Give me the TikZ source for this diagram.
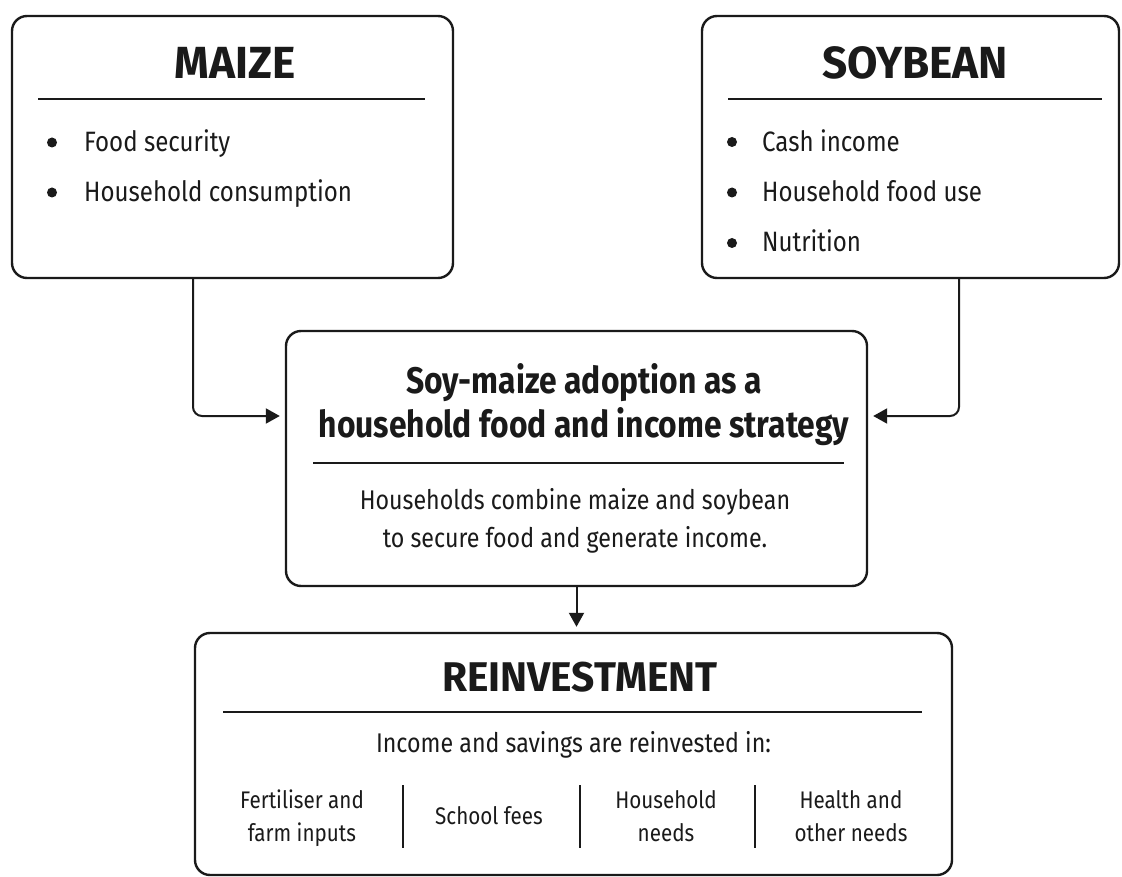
\documentclass[tikz,border=0pt]{standalone}
\usepackage{fontspec}
\setmainfont{Fira Sans}[FakeStretch=0.86]
\newfontfamily\headfont{Fira Sans}[FakeStretch=0.98]
\usetikzlibrary{arrows.meta}
\definecolor{ink}{HTML}{1A1A1A}
\begin{document}
\begin{tikzpicture}[x=1pt,y=-1pt,
  panel/.style={draw=ink,line width=2.4pt,rounded corners=15pt,inner sep=0pt,fill=white},
  rule/.style={draw=ink,line width=2pt},
  conn/.style={draw=ink,line width=2pt,rounded corners=9pt,shorten >=5pt,
    -{Triangle[length=14pt,width=15pt]}},
  head/.style={font=\headfont\fontsize{45}{50}\selectfont\bfseries,text=ink,inner sep=0pt,anchor=base},
  item/.style={font=\fontsize{28}{32}\selectfont,text=ink,inner sep=0pt,anchor=base west},
  dot/.style={circle,fill=ink,inner sep=0pt,minimum size=10pt},
  body/.style={font=\fontsize{27}{38}\selectfont,text=ink,inner sep=0pt,anchor=base,align=center},
  cell/.style={font=\fontsize{24}{33}\selectfont,text=ink,inner sep=0pt,anchor=base,align=center}]
\useasboundingbox (0,0) rectangle (1122,877);
\fill[white] (0,0) rectangle (1122,877);

% crop panels
\node[panel,minimum width=441pt,minimum height=262pt] (maize) at (232.5,147) {};
\node[panel,minimum width=417pt,minimum height=262pt] (soy) at (910.5,147) {};
\node[panel,minimum width=581pt,minimum height=255pt] (centre) at (576.5,458.5) {};
\node[panel,minimum width=757pt,minimum height=242pt] (reinvest) at (573.5,754) {};

% maize panel
\node[head] (maizeT) at (235,79) {MAIZE};
\draw[rule] (38,99) -- (425,99);
\node[dot] (m1d) at (52,142.5) {};
\node[item] (m1) at (84,152) {Food security};
\node[dot] (m2d) at (52,192.5) {};
\node[item] (m2) at (84,202) {Household consumption};

% soybean panel
\node[head] (soyT) at (915,79) {SOYBEAN};
\draw[rule] (728,99) -- (1102,99);
\node[dot] (s1d) at (732,142) {};
\node[item] (s1) at (762,152) {Cash income};
\node[dot] (s2d) at (732,192.5) {};
\node[item] (s2) at (762,202) {Household food use};
\node[dot] (s3d) at (732,243) {};
\node[item] (s3) at (762,252) {Nutrition};

% strategy panel (multi-line nodes sit on the baseline of their last line)
\node[font=\fontsize{37}{44}\selectfont\bfseries,text=ink,inner sep=0pt,anchor=base,align=center]
  (centreT) at (584,437) {Soy-maize adoption as a\\household food and income strategy};
\draw[rule] (313,463) -- (844,463);
\node[body] (centreB) at (575,547) {Households combine maize and soybean\\to secure food and generate income.};

% reinvestment panel
\node[head,font=\headfont\fontsize{41.5}{46}\selectfont\bfseries] (reinvestT) at (580,691) {REINVESTMENT};
\draw[rule] (223,712) -- (922,712);
\node[body,font=\fontsize{27}{30}\selectfont] (reinvestB) at (573.5,752) {Income and savings are reinvested in:};
\node[cell] (c1) at (302,841) {Fertiliser and\\farm inputs};
\node[cell] (c2) at (489,824) {School fees};
\node[cell] (c3) at (666,841) {Household\\needs};
\node[cell] (c4) at (851,841) {Health and\\other needs};
\draw[rule] (403,785) -- (403,848);
\draw[rule] (580,785) -- (580,848);
\draw[rule] (755,785) -- (755,848);

% connectors
\coordinate (mj) at (193,416);
\coordinate (sj) at (959,416);
\draw[conn] (mj |- maize.south) -- (mj) -- (centre.west |- mj);
\draw[conn] (sj |- soy.south) -- (sj) -- (centre.east |- sj);
\draw[conn,rounded corners=0pt] (centre.south) -- (centre.south |- reinvest.north);
\end{tikzpicture}
\end{document}
